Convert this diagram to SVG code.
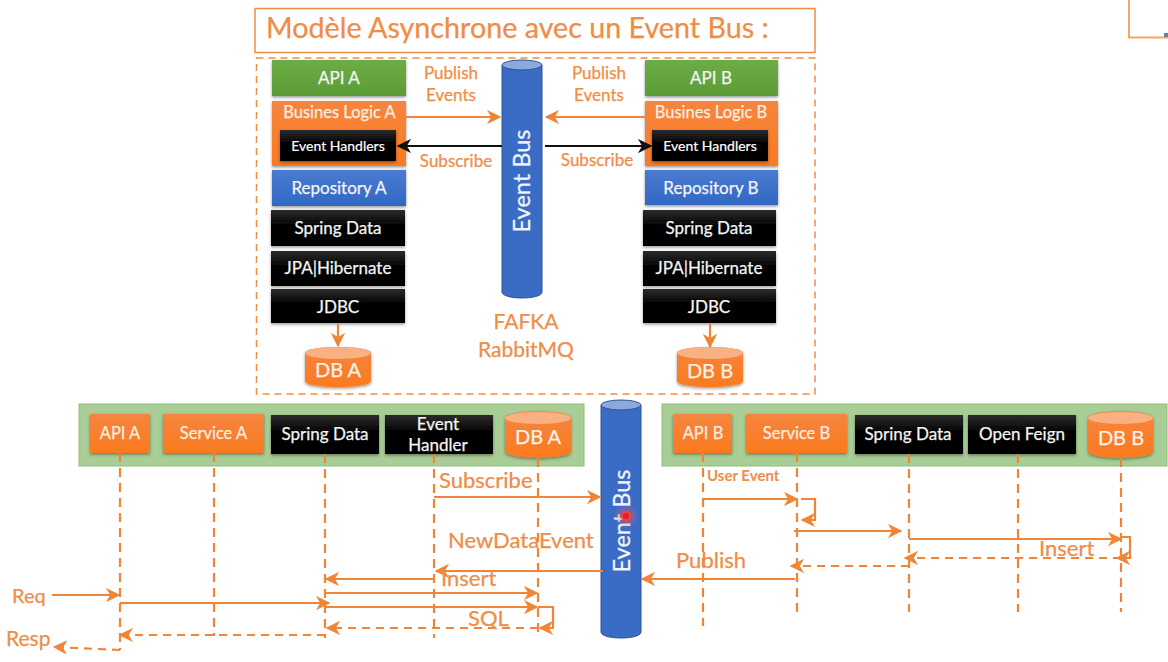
<svg xmlns="http://www.w3.org/2000/svg" width="1168" height="662" viewBox="0 0 1168 662">
<style>
text{font-family:Lato,"Open Sans","Liberation Sans",sans-serif}
.c{text-anchor:middle}
.w{fill:#f4f4f4;font-size:17px;stroke:#f4f4f4;stroke-width:.25}
.wo{fill:#fbeee2;font-size:16.500px;stroke:#fbeee2;stroke-width:.25}
.s{fill:#fff;font-size:14px;stroke:#fff;stroke-width:.2}
.o{fill:#ef8d47;font-size:17px;stroke:#ef8d47;stroke-width:.25}
.l{fill:#ef8d47;font-size:22px;stroke:#ef8d47;stroke-width:.25}
.db{fill:#fdf3ea;font-size:20px;stroke:#fdf3ea;stroke-width:.25}
.bt{fill:#f2f5fb;font-size:23.500px;stroke:#f2f5fb;stroke-width:.25}
.line{fill:none;stroke:#f08537;stroke-width:2.200}
.d{stroke-dasharray:8 6}
.ll{fill:none;stroke:#f08537;stroke-width:2.200;stroke-dasharray:9 6}
.a{marker-end:url(#ah)}
.k{fill:none;stroke:#111;stroke-width:2.200;marker-end:url(#ak)}
.sh{filter:url(#sh)}
</style>
<defs>
<linearGradient id="gk" x1="0" y1="0" x2="0" y2="1"><stop offset="0" stop-color="#2c2c2c"/><stop offset=".4" stop-color="#060606"/><stop offset="1" stop-color="#000"/></linearGradient>
<linearGradient id="gg" x1="0" y1="0" x2="0" y2="1"><stop offset="0" stop-color="#6dad46"/><stop offset="1" stop-color="#5c9c37"/></linearGradient>
<linearGradient id="go" x1="0" y1="0" x2="0" y2="1"><stop offset="0" stop-color="#f58540"/><stop offset="1" stop-color="#fb7a1e"/></linearGradient>
<linearGradient id="gb" x1="0" y1="0" x2="0" y2="1"><stop offset="0" stop-color="#4a7bd0"/><stop offset="1" stop-color="#3168c4"/></linearGradient>
<radialGradient id="halo"><stop offset="0" stop-color="#f33" stop-opacity=".75"/><stop offset="1" stop-color="#f66" stop-opacity="0"/></radialGradient>
<filter id="sh" x="-10%" y="-15%" width="120%" height="135%"><feDropShadow dx="0" dy="1.500" stdDeviation="1.500" flood-color="#000" flood-opacity=".4"/></filter>
<marker id="ah" viewBox="0 0 12 12" refX="11" refY="6" markerWidth="14" markerHeight="14" markerUnits="userSpaceOnUse" orient="auto"><path d="M1 1L11 6L1 11L4 6Z" fill="#f08537" stroke="#f08537" stroke-width="1"/></marker>
<marker id="ak" viewBox="0 0 12 12" refX="11" refY="6" markerWidth="14" markerHeight="14" markerUnits="userSpaceOnUse" orient="auto"><path d="M1 1L11 6L1 11L4 6Z" fill="#111" stroke="#111"/></marker>
</defs>
<rect width="1168" height="662" fill="#fff"/>
<path d="M1129 0V37.500H1168" fill="none" stroke="#f2a766" stroke-width="2"/>
<rect x="1164" y="33" width="4" height="4" fill="#6f7f8f"/>

<g id="title"><rect x="255" y="8.500" width="560" height="44" fill="#fff" stroke="#ef8d47" stroke-width="1.500"/><text x="266" y="38" fill="#ef8d47" stroke="#ef8d47" stroke-width=".25" font-size="28.700">Modèle Asynchrone avec un Event Bus :</text></g>
<rect id="frame" x="256.500" y="58" width="558.500" height="336" fill="none" stroke="#ef8d47" stroke-width="1.500" stroke-dasharray="7 5"/>

<g id="api-a"><rect class="sh" x="272" y="60" width="134" height="36" fill="url(#gg)"/><text class="c w" x="339" y="83.500">API A</text></g>
<g id="logic-a"><rect class="sh" x="272" y="101" width="134" height="65" fill="url(#go)"/><text class="c wo" x="339.500" y="118">Busines Logic A</text></g>
<g id="handlers-a"><rect class="sh" x="280" y="130" width="116" height="31" fill="url(#gk)"/><text class="c s" x="338" y="150.500">Event Handlers</text></g>
<g id="repo-a"><rect class="sh" x="272" y="170" width="134" height="36" fill="url(#gb)"/><text class="c w" x="339" y="193.500">Repository A</text></g>
<g id="spring-a"><rect class="sh" x="271" y="210" width="134" height="36" fill="url(#gk)"/><text class="c w" x="338" y="234">Spring Data</text></g>
<g id="jpa-a"><rect class="sh" x="271" y="251" width="134" height="35" fill="url(#gk)"/><text class="c w" x="338" y="274">JPA|Hibernate</text></g>
<g id="jdbc-a"><rect class="sh" x="271" y="289" width="134" height="34" fill="url(#gk)"/><text class="c w" x="338" y="313">JDBC</text></g>
<g id="db-a"><path class="sh" d="M305 353C305 345 371 345 371 353V381C371 389 305 389 305 381Z" fill="url(#go)"/><ellipse cx="338" cy="353" rx="33" ry="6" fill="#f9b183"/><text class="c db" x="338" y="377">DB A</text></g>

<g id="api-b"><rect class="sh" x="645" y="60" width="133" height="36" fill="url(#gg)"/><text class="c w" x="711" y="83.500">API B</text></g>
<g id="logic-b"><rect class="sh" x="645" y="101" width="133" height="65" fill="url(#go)"/><text class="c wo" x="711" y="118">Busines Logic B</text></g>
<g id="handlers-b"><rect class="sh" x="652" y="130" width="116" height="31" fill="url(#gk)"/><text class="c s" x="710" y="150.500">Event Handlers</text></g>
<g id="repo-b"><rect class="sh" x="645" y="170" width="133" height="35" fill="url(#gb)"/><text class="c w" x="711" y="193.500">Repository B</text></g>
<g id="spring-b"><rect class="sh" x="643" y="210" width="133" height="36" fill="url(#gk)"/><text class="c w" x="709" y="234">Spring Data</text></g>
<g id="jpa-b"><rect class="sh" x="643" y="251" width="133" height="35" fill="url(#gk)"/><text class="c w" x="709" y="274">JPA|Hibernate</text></g>
<g id="jdbc-b"><rect class="sh" x="643" y="289" width="133" height="34" fill="url(#gk)"/><text class="c w" x="709" y="313">JDBC</text></g>
<g id="db-b"><path class="sh" d="M677 353C677 345 743 345 743 353V381C743 389 677 389 677 381Z" fill="url(#go)"/><ellipse cx="710" cy="353" rx="33" ry="6" fill="#f9b183"/><text class="c db" x="710" y="378">DB B</text></g>

<g id="bus-top"><path d="M502 65V292C502 300 542 300 542 292V65Z" fill="#3a6cc6" stroke="#2f5597" stroke-width="1"/><ellipse cx="522" cy="65" rx="20" ry="5" fill="#8ca9dc" stroke="#2f5597" stroke-width="1"/><text class="c bt" transform="translate(530 181) rotate(-90)">Event Bus</text></g>

<g id="labels-top">
<text class="c o" x="451" y="79">Publish</text><text class="c o" x="451" y="101">Events</text>
<text class="c o" x="599" y="79">Publish</text><text class="c o" x="599" y="101">Events</text>
<text class="c o" x="456" y="167">Subscribe</text><text class="c o" x="597" y="166">Subscribe</text>
<text class="c" x="526" y="329" fill="#ef8d47" stroke="#ef8d47" stroke-width=".25" font-size="21">FAFKA</text><text class="c" x="526" y="357" fill="#ef8d47" stroke="#ef8d47" stroke-width=".25" font-size="21">RabbitMQ</text>
</g>

<rect id="lane-a" x="79" y="404" width="505" height="62" fill="#a9cd96" stroke="#8fbd78" stroke-width="1"/>
<rect id="lane-b" x="662" y="404" width="505" height="62" fill="#a9cd96" stroke="#8fbd78" stroke-width="1"/>

<g id="s-api-a"><rect class="sh" x="90" y="414" width="60" height="39" fill="url(#go)"/><text class="c wo" x="120" y="439">API A</text></g>
<g id="s-service-a"><rect class="sh" x="163" y="414" width="101" height="39" fill="url(#go)"/><text class="c wo" x="213.500" y="439">Service A</text></g>
<g id="s-spring-a"><rect class="sh" x="271" y="415" width="108" height="39" fill="url(#gk)"/><text class="c w" x="325" y="440">Spring Data</text></g>
<g id="s-handler-a"><rect class="sh" x="385" y="415" width="108" height="39" fill="url(#gk)"/><text class="c w" x="438" y="430">Event</text><text class="c w" x="438" y="451">Handler</text></g>
<g id="s-db-a"><path class="sh" d="M505 418C505 409 571 409 571 418V451C571 460 505 460 505 451Z" fill="url(#go)"/><ellipse cx="538" cy="418" rx="33" ry="6" fill="#f9b183"/><text class="c db" x="538" y="444">DB A</text></g>

<g id="s-api-b"><rect class="sh" x="673" y="414" width="59" height="39" fill="url(#go)"/><text class="c wo" x="703" y="439">API B</text></g>
<g id="s-service-b"><rect class="sh" x="746" y="414" width="101" height="39" fill="url(#go)"/><text class="c wo" x="796.500" y="439">Service B</text></g>
<g id="s-spring-b"><rect class="sh" x="855" y="415" width="108" height="39" fill="url(#gk)"/><text class="c w" x="908" y="440">Spring Data</text></g>
<g id="s-feign-b"><rect class="sh" x="968" y="415" width="108" height="39" fill="url(#gk)"/><text class="c w" x="1022" y="440">Open Feign</text></g>
<g id="s-db-b"><path class="sh" d="M1088 418C1088 409 1153 409 1153 418V451C1153 460 1088 460 1088 451Z" fill="url(#go)"/><ellipse cx="1120.500" cy="418" rx="32.500" ry="6" fill="#f9b183"/><text class="c db" x="1121" y="445">DB B</text></g>

<g id="bus-bottom"><path d="M601 405V632C601 640 641 640 641 632V405Z" fill="#3a6cc6" stroke="#2f5597" stroke-width="1"/><ellipse cx="621" cy="405" rx="20" ry="5" fill="#8ca9dc" stroke="#2f5597" stroke-width="1"/><text class="c bt" transform="translate(630 521) rotate(-90)">Event Bus</text></g>

<g id="connectors">
<path class="line a" d="M406 117H500"/><path class="line a" d="M645 117H546"/>
<path class="k" d="M502 146H398"/><path class="k" d="M545 146H651"/>
<path class="line a" d="M338 324V346"/><path class="line a" d="M710 324V347"/>

<path class="ll" d="M120 453V650"/><path class="ll" d="M214 453V636"/><path class="ll" d="M325 454V638"/><path class="ll" d="M434 454V638"/><path class="ll" d="M538 458V638"/>
<path class="ll" d="M703 453V626"/><path class="ll" d="M797 453V612"/><path class="ll" d="M909 454V612"/><path class="ll" d="M1018 454V612"/><path class="ll" d="M1121 458V612"/>

<path class="line a" d="M52 595H119"/>
<path class="line a" d="M120 603H329"/>
<path class="line d a" d="M325 635H120"/>
<path class="line d a" d="M120 650L54 647"/>
<path class="line a" d="M434 497H600"/>
<path class="line a" d="M603 571H436"/>
<path class="line a" d="M434 579H326"/>
<path class="line a" d="M326 593H537"/>
<path class="line a" d="M326 607H537"/>
<path class="line a" d="M538 607H553V628H540"/>
<path class="line d a" d="M538 628H327"/>
<path class="line a" d="M795 579H642"/>
<path class="line a" d="M703 499H797"/>
<path class="line a" d="M801 499H815V520H802"/>
<path class="line a" d="M794 531H901"/>
<path class="line a" d="M909 539H1121"/>
<path class="line a" d="M1121 537H1130V558H1117"/>
<path class="line d a" d="M1121 558H905"/>
<path class="line d a" d="M909 566H791"/>
</g>

<g id="labels-bottom">
<text class="l" x="12" y="603" style="font-size:20px">Req</text><text class="l" x="6" y="646" style="font-size:21px">Resp</text>
<text class="l" x="439" y="488">Subscribe</text>
<text class="l" x="448" y="548">NewDataEvent</text>
<text class="l" x="441" y="586">Insert</text>
<text class="l" x="468" y="626">SQL</text>
<text x="707" y="481" fill="#ef8d47" font-size="15" font-weight="700">User Event</text>
<text class="l" x="676" y="568">Publish</text>
<text class="l" x="1039" y="556">Insert</text>
</g>

<g id="pointer"><circle cx="626" cy="516" r="12" fill="url(#halo)"/><circle cx="626" cy="516" r="4" fill="#e0202a" stroke="#ff3b3b" stroke-width="2"/></g>
</svg>
